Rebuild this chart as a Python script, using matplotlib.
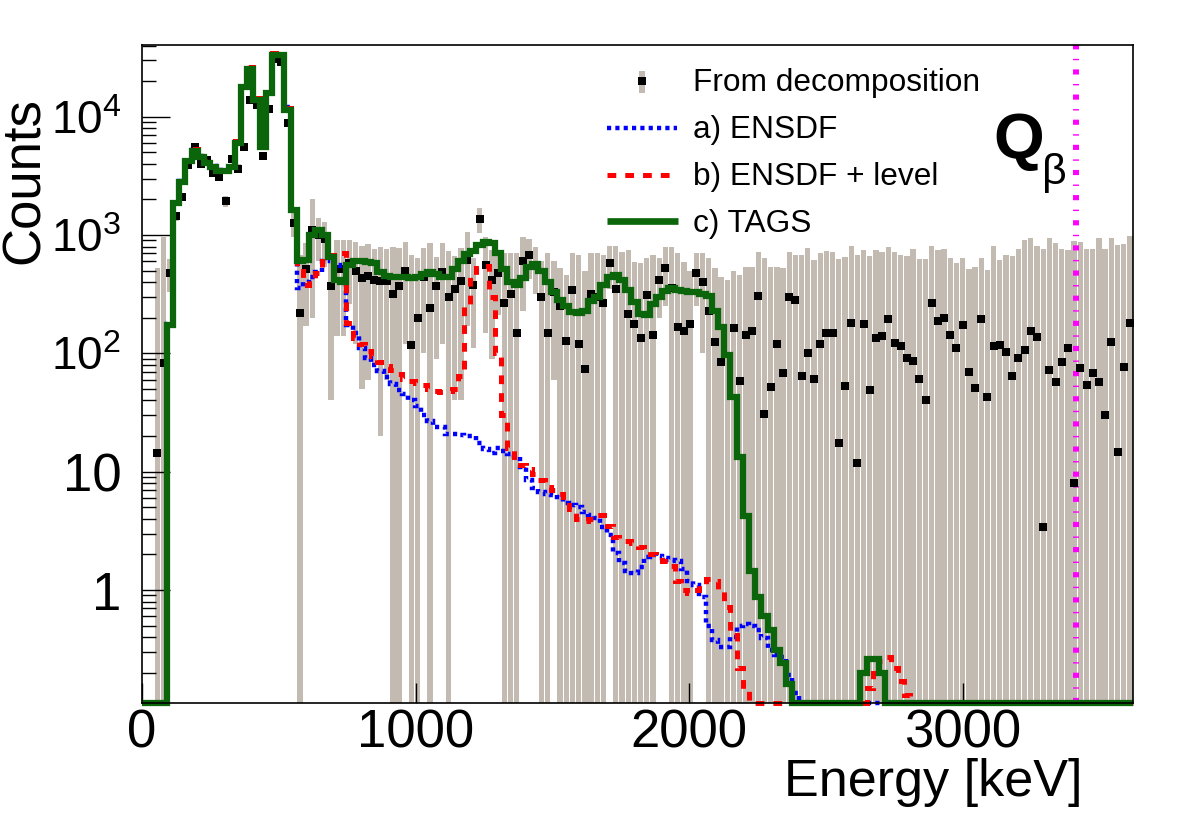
import numpy as np
import matplotlib
matplotlib.use("Agg")
import matplotlib.pyplot as plt
from matplotlib.lines import Line2D
from matplotlib.patches import Rectangle
from matplotlib.ticker import FixedLocator, NullLocator

# ---------------- data (160 bins, 0 - 3622 keV) ----------------
e_max = 3622.0
n_bins = 160

tags = [
    0, 0, 0, 0, 174, 1850, 2800, 4200, 5100, 4600,
    4100, 3750, 3500, 3500, 3750, 6000, 17700, 25500, 13900, 5500,
    15800, 33000, 33000, 11400, 1620, 600, 620, 1000, 1100, 1000,
    650, 420, 400, 560, 600, 600, 590, 580, 490, 450,
    440, 440, 440, 430, 440, 470, 490, 470, 440, 440,
    520, 600, 690, 740, 830, 880, 850, 700, 520, 400,
    380, 430, 540, 570, 500, 400, 330, 280, 250, 225,
    218, 230, 275, 300, 380, 445, 460, 415, 345, 270,
    215, 210, 260, 300, 340, 355, 345, 335, 330, 330,
    320, 305, 230, 168, 97, 43, 13.4, 4.2, 1.45, 0.88,
    0.6, 0.46, 0.31, 0.24, 0.16, 0, 0, 0, 0, 0,
    0, 0, 0, 0, 0, 0, 0.2, 0.26, 0.26, 0.2,
    0, 0, 0, 0, 0, 0, 0, 0, 0, 0,
    0, 0, 0, 0, 0, 0, 0, 0, 0, 0,
    0, 0, 0, 0, 0, 0, 0, 0, 0, 0,
    0, 0, 0, 0, 0, 0, 0, 0, 0, 0,
]

ensdf_level = [
    0, 0, 0, 0, 180, 1900, 2900, 4300, 5300, 4700,
    4200, 3850, 3600, 3600, 3850, 6200, 18500, 26500, 14300, 5600,
    16200, 34500, 34500, 11800, 1650, 500, 380, 430, 480, 600,
    680, 720, 700, 180, 135, 120, 105, 95, 85, 78,
    72, 67, 61, 58, 56, 54, 50, 48, 47, 48,
    50, 65, 250, 450, 530, 550, 300, 100, 30, 16,
    12.6, 11.5, 10.5, 9.5, 8.5, 7.5, 7.0, 6.5, 6.1, 4.8,
    4.0, 3.8, 4.0, 4.3, 4.3, 3.5, 2.8, 2.7, 2.6, 2.5,
    2.3, 2.2, 2.0, 1.9, 1.75, 1.6, 1.2, 1.0, 0.94, 1.0,
    1.1, 1.25, 1.2, 1.0, 0.72, 0.42, 0.22, 0.14, 0, 0,
    0, 0, 0, 0, 0, 0, 0, 0, 0, 0,
    0, 0, 0, 0, 0, 0, 0, 0.15, 0.2, 0.25,
    0.27, 0.22, 0.17, 0.13, 0, 0, 0, 0, 0, 0,
    0, 0, 0, 0, 0, 0, 0, 0, 0, 0,
    0, 0, 0, 0, 0, 0, 0, 0, 0, 0,
    0, 0, 0, 0, 0, 0, 0, 0, 0, 0,
]

ensdf = [
    0, 0, 0, 0, 176, 1870, 2850, 4250, 5200, 4650,
    4150, 3800, 3550, 3550, 3800, 6100, 18000, 26000, 14100, 5550,
    16000, 33500, 33500, 12000, 1640, 360, 400, 440, 490, 600,
    660, 560, 520, 175, 148, 110, 92, 80, 71, 63,
    55, 49, 45, 40, 36, 30, 27, 24, 24, 21,
    21, 20.5, 20, 20, 17.5, 15.5, 14.4, 15.8, 15, 14,
    13.6, 11, 8.5, 7.3, 6.7, 6.5, 6.3, 6.1, 5.4, 5.2,
    5.0, 4.6, 4.3, 4.05, 3.4, 2.9, 2.05, 1.7, 1.45, 1.4,
    1.57, 1.9, 1.97, 1.95, 1.86, 1.8, 1.75, 1.5, 1.2, 1.1,
    0.87, 0.5, 0.38, 0.33, 0.33, 0.4, 0.5, 0.52, 0.5, 0.46,
    0.39, 0.31, 0.28, 0.27, 0.19, 0.135, 0, 0, 0, 0,
    0, 0, 0, 0, 0, 0, 0, 0, 0, 0,
    0, 0, 0, 0, 0, 0, 0, 0, 0, 0,
    0, 0, 0, 0, 0, 0, 0, 0, 0, 0,
    0, 0, 0, 0, 0, 0, 0, 0, 0, 0,
    0, 0, 0, 0, 0, 0, 0, 0, 0, 0,
]

decomp = [
    0, 0, 14.4, 83, 480, 1440, 2100, 3900, 5600, 3970,
    4300, 3330, 3100, 1940, 4360, 3650, 5600, 13900, 12500, 4650,
    11700, 31000, 29300, 8900, 1260, 218, 515, 1100, 1000, 920,
    370, 520, 520, 580, 500, 430, 450, 420, 410, 410,
    315, 370, 500, 117, 200, 440, 240, 370, 490, 300,
    350, 410, 620, 375, 1370, 560, 420, 480, 265, 320,
    148, 600, 680, 560, 300, 148, 330, 250, 128, 345,
    120, 74, 320, 300, 265, 580, 350, -50, 215, 177,
    134, 310, 143, 420, 525, 360, 168, 155, 177, 475,
    400, 230, 125, 85, -50, 163, 58.7, 143, 155, 305,
    31, 52, 121, 68, 300, 280, 64, 100, 61, 121,
    148, 150, 17.4, 53, 180, 11.8, 177, 49, 134, 140,
    194, 123, 116, 91, 87, 61, 40, 265, 188, 200,
    143, 110, 173, 69, 51, 194, 43, 116, 118, 102,
    65, 91, 107, 155, 137, 3.4, 72, 57, 85, 111,
    8, 75, 54, 68, 57, 30, 125, 14.6, 77, 180,
]

decomp_err = [
    0, 0, 516, 877, 150, 120, 170, 300, 400, 300,
    320, 260, 250, 200, 330, 300, 420, 900, 850, 350,
    800, 1800, 1700, 600, 300, 462, 345, 900, 400, 380,
    330, 380, 380, 320, 380, 380, 390, 340, 390, 350,
    485, 410, 380, 563, 440, 340, 620, 280, 370, 440,
    310, 370, 450, 265, 320, 410, 330, 270, 435, 380,
    552, 370, 255, 240, 300, 552, 270, 272, 332, 355,
    556, 426, 380, 400, 411, 230, 460, 776, 538, 418,
    446, 330, 533, 220, 275, 440, 532, 440, 318, 225,
    300, 407, 397, 360, 465, 332, 401, 398, 386, 421,
    606, 489, 420, 454, 416, 405, 612, 683, 556, 579,
    589, 576, 609, 597, 629, 673, 565, 616, 619, 586,
    595, 597, 569, 579, 678, 569, 590, 544, 565, 560,
    497, 474, 464, 447, 490, 451, 465, 693, 499, 583,
    600, 669, 802, 796, 672, 762, 868, 806, 680, 631,
    889, 804, 706, 692, 883, 730, 815, 809, 764, 804,
]

q_beta = 3412.0
x_ticks = [0, 1000, 2000, 3000]
x_tick_labels = ["0", "1000", "2000", "3000"]
y_ticks = [1, 10, 100, 1000, 10000]
y_tick_labels = ["1", "10", r"$\mathregular{10^{2}}$", r"$\mathregular{10^{3}}$",
                 r"$\mathregular{10^{4}}$"]
legend_labels = ["From decomposition", "a) ENSDF", "b) ENSDF + level", "c) TAGS"]

# ---------------- styling ----------------
plt.rcParams["font.family"] = ["Liberation Sans", "DejaVu Sans"]
plt.rcParams["mathtext.fontset"] = "custom"
plt.rcParams["mathtext.rm"] = "Liberation Sans"
plt.rcParams["mathtext.it"] = "Liberation Sans:italic"
plt.rcParams["mathtext.bf"] = "Liberation Sans:bold"
plt.rcParams["lines.scale_dashes"] = False

GRAY = "#c3bab1"
GREEN = "#0b650b"
RED = "#ff0000"
BLUE = "#0000ff"
MAGENTA = "#ff00ff"

W, H = 1182, 819
fig = plt.figure(figsize=(W / 100, H / 100), dpi=100)


def fx(px):
    return px / W


def fy(py):
    return 1 - py / H


ax = fig.add_axes([fx(142), fy(703), (1133 - 142) / W, (703 - 45) / H])
ymin, ymax = 0.111, 40400
ax.set_yscale("log")
ax.set_xlim(0, e_max)
ax.set_ylim(ymin, ymax)

edges = np.linspace(0, e_max, n_bins + 1)
centers = 0.5 * (edges[:-1] + edges[1:])
bw = edges[1] - edges[0]

pts = np.array(decomp, float)
err = np.array(decomp_err, float)
hi = pts + err
lo = np.clip(pts - err, ymin * 0.5, None)
m = hi > 0
ax.bar(centers[m], (hi - lo)[m], bottom=lo[m], width=bw * 0.86, color=GRAY,
       linewidth=0, zorder=1)

# Q-beta line
ax.axvline(q_beta, color=MAGENTA, lw=4.3, zorder=2,
           linestyle=(0, (3.7, 6.6, 1.0, 6.8)), dash_capstyle="butt")

vis = pts > ymin
ax.plot(centers[vis], pts[vis], "s", color="black", ms=6.0, mew=0, zorder=3)


def steps(vals, **kw):
    v = np.clip(np.array(vals, float), ymin, None)
    ax.stairs(v, edges, baseline=None, clip_on=False, fill=False, **kw)


steps(ensdf, color=BLUE, lw=3.2, linestyle=(0, (3.0, 3.0)), zorder=4,
      joinstyle="miter", capstyle="butt")
steps(ensdf_level, color=RED, lw=3.6, linestyle=(0, (6.3, 6.5)), zorder=5,
      joinstyle="miter", capstyle="butt")
steps(tags, color=GREEN, lw=4.5, zorder=6, joinstyle="miter", capstyle="butt")

# ticks
ax.xaxis.set_major_locator(FixedLocator(x_ticks))
ax.set_xticklabels(x_tick_labels)
ax.xaxis.set_minor_locator(NullLocator())
ax.yaxis.set_major_locator(FixedLocator(y_ticks))
ax.set_yticklabels(y_tick_labels)
minor = [k * 10.0 ** d for d in range(-1, 5) for k in range(2, 10)]
ax.yaxis.set_minor_locator(FixedLocator(minor))
ax.tick_params(axis="x", which="major", direction="in", length=14.5, width=1.0,
               labelsize=38, pad=4, top=False)
ax.tick_params(axis="y", which="major", direction="in", length=20, width=1.0,
               labelsize=38, pad=15, right=False)
ax.tick_params(axis="y", which="minor", direction="in", length=10, width=1.0,
               right=False)
for lbl in ax.get_yticklabels():
    if "^" in lbl.get_text():
        lbl.set_fontsize(33)
for s in ax.spines.values():
    s.set_linewidth(1.2)
    s.set_zorder(7)

# axis titles
fig.text(fx(1083), fy(796), "Energy [keV]", fontsize=37.5, ha="right", va="baseline")
fig.text(fx(39), fy(97), "Counts", fontsize=38, rotation=90, rotation_mode="anchor",
         ha="right", va="baseline")

# Q beta label
fig.text(fx(993), fy(159), "Q", fontsize=47, fontweight="bold", ha="left", va="baseline")
fig.text(fx(1042), fy(184), "\u03b2", fontsize=31, ha="left", va="baseline")

# legend (drawn manually)
text_x = 693
base_y = [91, 138, 185, 232]
fig.add_artist(Rectangle((fx(639), fy(93)), 6 / W, 22 / H, transform=fig.transFigure,
                         color=GRAY, lw=0))
fig.add_artist(Line2D([fx(642)], [fy(81)], marker="s", color="black", ms=6.2, mew=0,
                      transform=fig.transFigure))
fig.add_artist(Line2D([fx(607), fx(677)], [fy(128), fy(128)], color=BLUE, lw=3.2,
                      linestyle=(0, (3.0, 3.0)), transform=fig.transFigure,
                      dash_capstyle="butt"))
fig.add_artist(Line2D([fx(607), fx(678)], [fy(175), fy(175)], color=RED, lw=3.6,
                      linestyle=(0, (6.3, 6.5)), transform=fig.transFigure,
                      dash_capstyle="butt"))
fig.add_artist(Line2D([fx(607), fx(678)], [fy(221.5), fy(221.5)], color=GREEN, lw=4.8,
                      transform=fig.transFigure, solid_capstyle="butt"))
for lab, by in zip(legend_labels, base_y):
    fig.text(fx(text_x), fy(by), lab, fontsize=22.8, ha="left", va="baseline")

fig.savefig("out.png", dpi=100)
